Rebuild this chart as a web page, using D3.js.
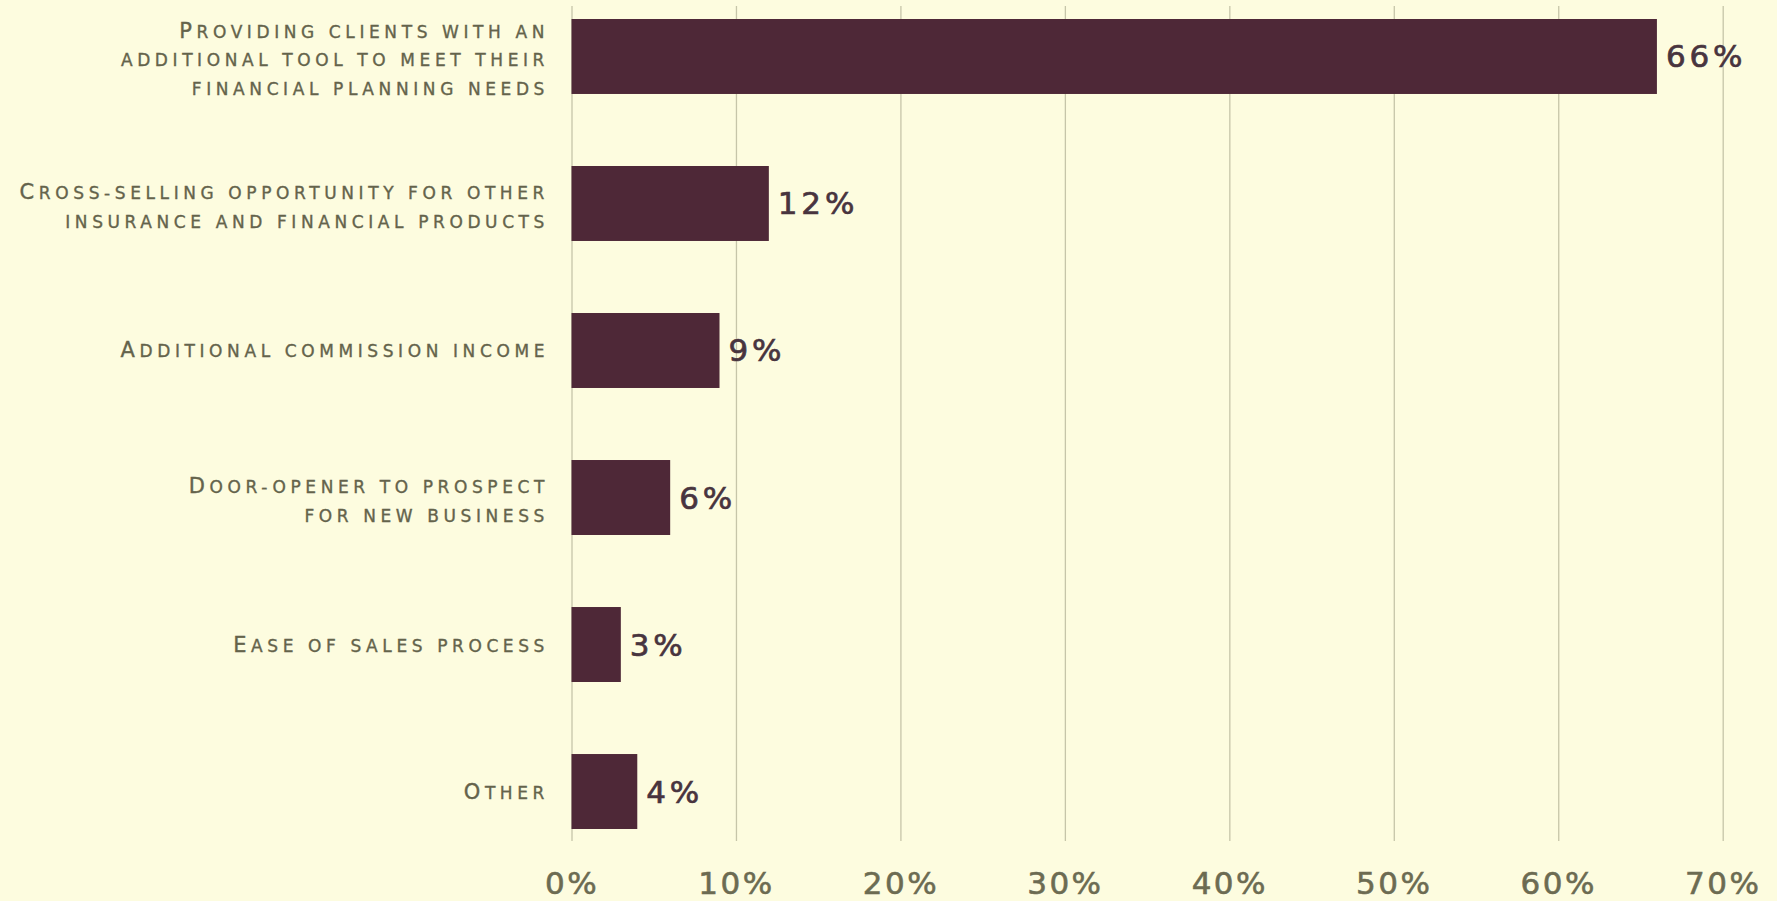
<!DOCTYPE html>
<html>
<head>
<meta charset="utf-8">
<script src="https://cdn.jsdelivr.net/npm/d3@7"></script>
<style>
  html, body { margin: 0; padding: 0; background: #fdfcdf; overflow: hidden; }
  svg { display: block; }
</style>
</head>
<body>
<div id="chart"></div>
<script>
// datos del grafico
const categories = [
  ["Providing clients with an", "additional tool to meet their", "financial planning needs"],
  ["Cross-selling opportunity for other", "insurance and financial products"],
  ["Additional commission income"],
  ["Door-opener to prospect", "for new business"],
  ["Ease of sales process"],
  ["Other"]
];
const values = [0.66, 0.12, 0.09, 0.06, 0.03, 0.04];
const valueLabels = ["66%", "12%", "9%", "6%", "3%", "4%"];
const tickValues = [0, 0.1, 0.2, 0.3, 0.4, 0.5, 0.6, 0.7];

function drawBars(container){
  const width = 1777;
  const height = 901;

  const barColor = "#4e2837";
  const labelColor = "#64634b";
  const gridColor = "#c6c5a9";

  const data = values.map((v, i) => ({id: i, lines: categories[i], value: v, label: valueLabels[i]}));

  const x = d3.scaleLinear()
    .domain([0, 0.7])
    .range([571.5, 1722.7]);

  const y = d3.scaleBand()
    .domain(data.map(d => d.id))
    .range([19, 829])
    .paddingInner(0.49)
    .paddingOuter(0);

  const gridTop = 6;
  const gridBottom = 841;

  const svg = d3.select(container).append("svg")
      .attr("width", width)
      .attr("height", height)
      .attr("viewBox", [0, 0, width, height])
      .style("background", "#fdfcdf");

  // eje x con lineas de rejilla
  const xAxis = g => g
      .attr("transform", `translate(0,${gridBottom})`)
      .call(d3.axisBottom(x).tickValues(tickValues).tickFormat(d3.format(".0%"))
        .tickSize(-(gridBottom - gridTop)).tickPadding(0))
      .call(g => g.select(".domain").remove())
      .call(g => g.selectAll(".tick line").attr("stroke", gridColor).attr("stroke-width", 1.3))
      .call(g => g.selectAll(".tick text")
          .attr("y", 53)
          .attr("dy", null)
          .attr("fill", "#6c6b52")
          .attr("stroke", "#6c6b52")
          .attr("stroke-width", 0.6)
          .style("font", "31px 'DejaVu Sans', sans-serif")
          .style("letter-spacing", "2.5px"));

  svg.append("g").call(xAxis);

  // barras
  svg.append("g")
      .attr("fill", barColor)
    .selectAll("rect")
    .data(data)
    .join("rect")
      .attr("x", x(0))
      .attr("y", d => y(d.id))
      .attr("width", d => x(d.value) - x(0))
      .attr("height", y.bandwidth());

  // valores
  svg.append("g")
      .attr("fill", "#48343e")
      .attr("stroke", "#48343e")
      .attr("stroke-width", 0.7)
      .style("font", "31px 'DejaVu Sans', sans-serif")
      .style("letter-spacing", "3.8px")
    .selectAll("text")
    .data(data)
    .join("text")
      .attr("x", d => x(d.value) + 9)
      .attr("y", d => y(d.id) + y.bandwidth() / 2 + 11)
      .text(d => d.label);

  // etiquetas de categorias (versalitas hechas a mano)
  const lineH = 28.3;
  const cat = svg.append("g")
      .attr("fill", labelColor)
      .attr("stroke", labelColor)
      .attr("stroke-width", 0.35)
      .attr("text-anchor", "end")
      .style("font-family", "'DejaVu Sans', sans-serif")
      .style("letter-spacing", "4.6px")
    .selectAll("text")
    .data(data)
    .join("text")
      .attr("y", d => y(d.id) + y.bandwidth() / 2 - (d.lines.length - 1) * lineH / 2 + (d.lines.length > 1 ? 10 : 7));

  const lineas = cat.selectAll("tspan.linea")
    .data(d => d.lines.map((l, i) => ({text: l, i})))
    .join("tspan")
      .attr("class", "linea")
      .attr("x", 549)
      .attr("dy", d => d.i === 0 ? 0 : lineH);

  lineas.selectAll("tspan")
    .data(d => d.text.match(/[A-Z]+|[^A-Z]+/g).map(s => ({s, big: /^[A-Z]/.test(s)})))
    .join("tspan")
      .style("font-size", d => d.big ? "21px" : "17px")
      .text(d => d.s.toUpperCase());

  return svg;
}

drawBars("#chart");
</script>
</body>
</html>
